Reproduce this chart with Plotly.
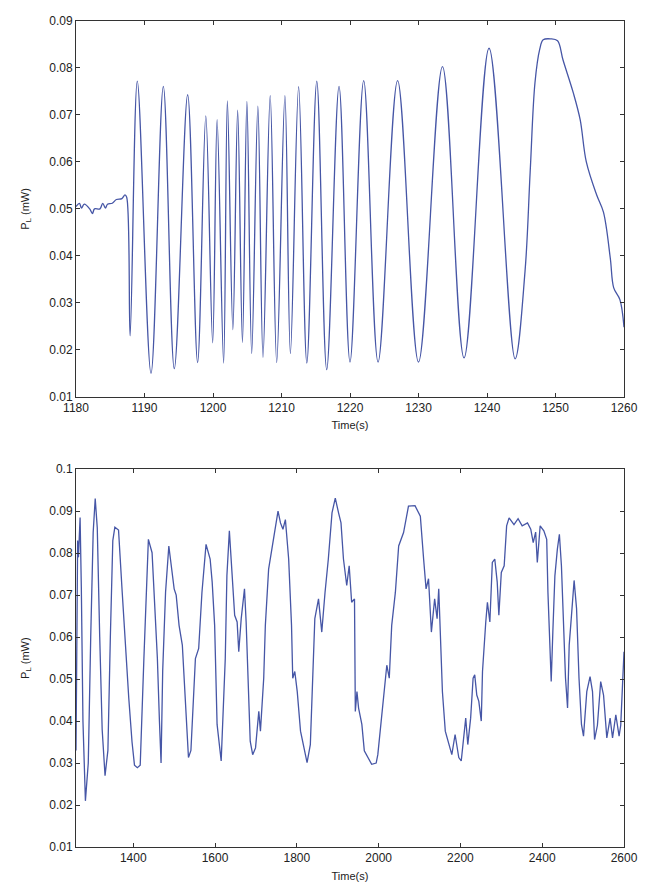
import plotly.graph_objects as go

# valores (tempo em s, potencia em mW)
top_time = [1180.0, 1180.5, 1180.8, 1181.2, 1182.0, 1182.4, 1182.7, 1183.5, 1183.9, 1184.3,
            1184.6, 1185.3, 1185.9, 1186.7, 1187.15, 1187.4, 1187.9, 1188.95, 1190.95, 1192.75,
            1194.35, 1196.3, 1197.75, 1198.95, 1199.95, 1200.6, 1201.55, 1202.1, 1202.9, 1203.6,
            1204.3, 1204.95, 1205.65, 1206.55, 1207.3, 1208.35, 1209.3, 1210.5, 1211.3, 1212.5,
            1213.7, 1215.15, 1216.6, 1218.4, 1220.0, 1222.0, 1224.1, 1226.95, 1230.0, 1233.5,
            1236.65, 1240.3, 1244.1, 1245.55, 1246.3, 1247.0, 1247.7, 1248.2, 1249.3, 1250.3,
            1251.1, 1252.6, 1253.6, 1254.5, 1256.0, 1257.0, 1258.0, 1258.5, 1259.4, 1260.0]
top_power = [0.0505, 0.0512, 0.0502, 0.0510, 0.0500, 0.0490, 0.0500, 0.0500, 0.0512, 0.0502,
             0.0510, 0.0512, 0.0520, 0.0522, 0.0530, 0.0525, 0.0230, 0.0772, 0.0150, 0.0761,
             0.0160, 0.0743, 0.0173, 0.0698, 0.0215, 0.0690, 0.0172, 0.0730, 0.0243, 0.0710,
             0.0216, 0.0729, 0.0192, 0.0719, 0.0184, 0.0741, 0.0173, 0.0741, 0.0192, 0.0760,
             0.0172, 0.0772, 0.0158, 0.0761, 0.0174, 0.0773, 0.0174, 0.0773, 0.0174, 0.0803,
             0.0183, 0.0842, 0.0181, 0.0367, 0.0578, 0.0768, 0.0840, 0.0860, 0.0862, 0.0858,
             0.0817, 0.0747, 0.0690, 0.0600, 0.0530, 0.0493, 0.0395, 0.0332, 0.0307, 0.0248]

bot_time = [1260, 1262, 1264, 1266, 1270, 1273, 1277, 1283, 1290, 1296, 1302, 1307, 1312, 1318,
            1324, 1331, 1338, 1344, 1350, 1355, 1364, 1373, 1381, 1389, 1397, 1403, 1410, 1417,
            1426, 1437, 1446, 1459, 1464, 1468, 1472, 1479, 1487, 1500, 1505, 1512, 1520, 1528,
            1535, 1541, 1552, 1560, 1568, 1578, 1588, 1593, 1599, 1605, 1615, 1625, 1629, 1635,
            1642, 1648, 1654, 1658, 1664, 1672, 1676, 1681, 1686, 1692, 1699, 1707, 1711, 1719,
            1723, 1731, 1739, 1754, 1760, 1766, 1772, 1780, 1787, 1790, 1795, 1801, 1809, 1825,
            1833, 1839, 1844, 1853, 1861, 1869, 1877, 1886, 1894, 1902, 1908, 1914, 1922, 1928,
            1934, 1941, 1943, 1947, 1951, 1959, 1965, 1983, 1994, 1998, 2004, 2012, 2020, 2026,
            2032, 2041, 2049, 2061, 2073, 2089, 2102, 2110, 2116, 2122, 2129, 2137, 2143, 2147,
            2151, 2156, 2163, 2179, 2187, 2196, 2202, 2209, 2213, 2218, 2225, 2231, 2235, 2240,
            2245, 2251, 2254, 2262, 2266, 2272, 2278, 2284, 2290, 2294, 2300, 2307, 2313, 2319,
            2331, 2341, 2351, 2364, 2372, 2378, 2384, 2388, 2395, 2404, 2411, 2414, 2419, 2422,
            2426, 2431, 2437, 2442, 2447, 2452, 2457, 2462, 2466, 2471, 2478, 2484, 2490, 2496,
            2501, 2509, 2517, 2523, 2528, 2535, 2543, 2550, 2558, 2566, 2572, 2580, 2588, 2592,
            2596, 2600]
bot_power = [0.033, 0.067, 0.083, 0.079, 0.0885, 0.072, 0.040, 0.021, 0.030, 0.060, 0.085, 0.093,
             0.086, 0.060, 0.038, 0.027, 0.033, 0.060, 0.083, 0.0862, 0.0855, 0.0707, 0.0565,
             0.0455, 0.035, 0.0295, 0.0289, 0.0295, 0.0549, 0.0833, 0.0801, 0.0549, 0.040, 0.0300,
             0.052, 0.0707, 0.0817, 0.0715, 0.0700, 0.0628, 0.0581, 0.0431, 0.0313, 0.033, 0.0549,
             0.0573, 0.0707, 0.0821, 0.0786, 0.0731, 0.0628, 0.0392, 0.0305, 0.0549, 0.0746,
             0.0853, 0.0746, 0.0652, 0.0636, 0.0565, 0.0644, 0.0715, 0.0636, 0.047, 0.0352, 0.032,
             0.0336, 0.0423, 0.0376, 0.0502, 0.0628, 0.0762, 0.0809, 0.0900, 0.0872, 0.0857,
             0.0880, 0.0786, 0.0628, 0.0502, 0.0518, 0.047, 0.0376, 0.0301, 0.0344, 0.0502,
             0.0644, 0.0691, 0.0612, 0.0707, 0.0786, 0.0896, 0.0931, 0.0896, 0.0872, 0.0786,
             0.0723, 0.0770, 0.0683, 0.0691, 0.0423, 0.0470, 0.0431, 0.0392, 0.0329, 0.0297,
             0.0300, 0.032, 0.0376, 0.0455, 0.0533, 0.0502, 0.0628, 0.0707, 0.0817, 0.0849,
             0.0912, 0.0913, 0.0888, 0.0786, 0.0715, 0.0739, 0.0612, 0.0691, 0.0644, 0.0715,
             0.0589, 0.047, 0.0376, 0.032, 0.0368, 0.0313, 0.0305, 0.0376, 0.0407, 0.0344,
             0.0407, 0.0502, 0.051, 0.0462, 0.0447, 0.0400, 0.0518, 0.0636, 0.0683, 0.0636,
             0.0778, 0.0786, 0.0731, 0.0652, 0.0754, 0.077, 0.0865, 0.0884, 0.0868, 0.0882,
             0.0865, 0.0872, 0.0857, 0.0825, 0.085, 0.0778, 0.0865, 0.0853, 0.0833, 0.0707,
             0.0589, 0.0494, 0.0612, 0.0746, 0.0809, 0.0845, 0.077, 0.0612, 0.0502, 0.0431,
             0.0581, 0.0644, 0.0735, 0.0668, 0.0502, 0.0392, 0.0364, 0.047, 0.0506, 0.047,
             0.0356, 0.039, 0.0494, 0.0462, 0.036, 0.0407, 0.036, 0.0415, 0.0364, 0.039, 0.047,
             0.0565]

cor = '#4656a6'
fonte = dict(family='Liberation Sans, Arial, sans-serif', size=12, color='#222222')

fig = go.Figure()
fig.add_trace(go.Scatter(x=top_time, y=top_power, mode='lines', xaxis='x', yaxis='y',
                         line=dict(color=cor, width=1.3, shape='spline', smoothing=1.0)))
fig.add_trace(go.Scatter(x=bot_time, y=bot_power, mode='lines', xaxis='x2', yaxis='y2',
                         line=dict(color=cor, width=1.3)))

eixo = dict(showline=True, linecolor='#333333', linewidth=1, mirror='allticks',
            ticks='inside', ticklen=4, tickcolor='#333333', showgrid=False, zeroline=False,
            tickfont=fonte)

# a pagina tem 8px de margem no body, por isso l/t menores
fig.update_layout(
    width=649, height=888,
    margin=dict(l=68, r=33, t=6, b=49),
    paper_bgcolor='white', plot_bgcolor='white',
    showlegend=False,
    font=fonte,
    xaxis=dict(eixo, domain=[0, 1], anchor='y', range=[1180, 1260], dtick=10,
               title=dict(text='Time(s)', font=dict(size=11), standoff=7)),
    yaxis=dict(eixo, domain=[0.545, 1], anchor='x', range=[0.01, 0.09], dtick=0.01,
               tickformat='.2~f',
               title=dict(text='P<sub>L</sub> (mW)', font=dict(size=11), standoff=17)),
    xaxis2=dict(eixo, domain=[0, 1], anchor='y2', range=[1260, 2600], tick0=0, dtick=200,
                title=dict(text='Time(s)', font=dict(size=11), standoff=7)),
    yaxis2=dict(eixo, domain=[0, 0.4574], anchor='x2', range=[0.01, 0.1], dtick=0.01,
                tickformat='.2~f',
                title=dict(text='P<sub>L</sub> (mW)', font=dict(size=11), standoff=17)),
)

fig.write_html("out.html")
